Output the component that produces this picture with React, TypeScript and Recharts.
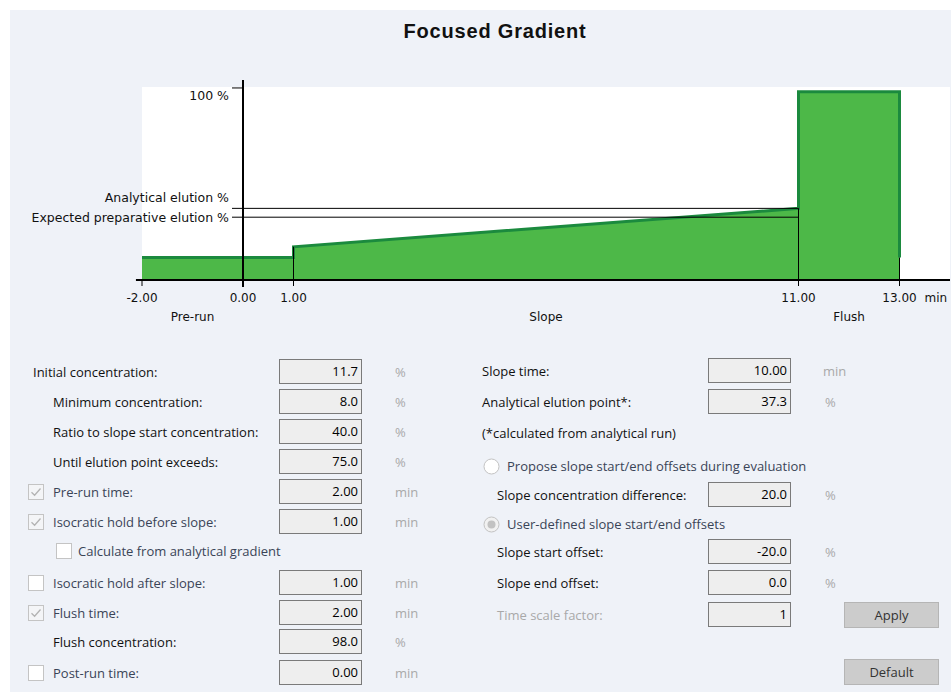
import React from 'react';
import { AreaChart, Area, XAxis, YAxis, CartesianGrid, ReferenceLine } from 'recharts';

// gradient profile: time (min) vs. B concentration (%)
const timeMin = [-2, 0, 1, 1, 11, 11, 13, 13];
const concentration = [11.7, 11.7, 11.7, 17.3, 37.3, 98, 98, 11.7];

const timeTicks = [-2, 0, 1, 11, 13];
const timeTickLabels = ['-2.00', '0.00', '1.00', '11.00', '13.00'];

const phaseNames = ['Pre-run', 'Slope', 'Flush'];
const phaseCenters = [-1, 6, 12];

const percentTicks = [100, 37.3, 32.7];
const percentTickLabels = ['100 %', 'Analytical elution %', 'Expected preparative elution %'];

const analyticalElution = 37.3;
const expectedElution = 32.7;
const boundaryTimes = [1, 11, 13];
const boundaryLevels = [17.3, 37.3, 11.7];

const data = timeMin.map((t, i) => ({ t, conc: concentration[i] }));

// layout
const CHART_W = 951;
const CHART_H = 340;
const MARGIN = { top: 87, right: 1, bottom: 9, left: 82 };
const Y_AXIS_W = 60;
const X_DOMAIN: [number, number] = [-2, 14];
const PLOT_LEFT = MARGIN.left + Y_AXIS_W;
const PLOT_W = CHART_W - PLOT_LEFT - MARGIN.right;
const Y_AXIS_X = PLOT_LEFT + ((0 - X_DOMAIN[0]) * PLOT_W) / (X_DOMAIN[1] - X_DOMAIN[0]);

const chartFont = { fontFamily: '"DejaVu Sans", Verdana, sans-serif', fontSize: 12 };
const yLabelFont = { fontFamily: '"DejaVu Sans", Verdana, sans-serif', fontSize: 12.5 };
const labelShift = [8, -11, 0];

function TimeTick(props: any) {
  const { x, y, payload } = props;
  const i = timeTicks.indexOf(payload.value);
  return (
    <g>
      <text x={x} y={y} dy="0.71em" textAnchor="middle" fill="#111" style={chartFont}>
        {timeTickLabels[i]}
      </text>
      {i === timeTicks.length - 1 && (
        <text x={x + 25} y={y} dy="0.71em" textAnchor="start" fill="#111" style={chartFont}>
          min
        </text>
      )}
    </g>
  );
}

function PhaseTick(props: any) {
  const { x, y, payload } = props;
  const i = phaseCenters.indexOf(payload.value);
  return (
    <text x={x} y={y} dy="0.71em" textAnchor="middle" fill="#111" style={chartFont}>
      {phaseNames[i]}
    </text>
  );
}

function PercentTick(props: any) {
  const { y, payload } = props;
  const i = percentTicks.indexOf(payload.value);
  return (
    <g>
      <line x1={Y_AXIS_X - 11} x2={Y_AXIS_X} y1={y} y2={y} stroke="#000" strokeWidth={1} />
      <text x={Y_AXIS_X - 14} y={y + labelShift[i]} dy="0.35em" textAnchor="end" fill="#111" style={yLabelFont}>
        {percentTickLabels[i]}
      </text>
    </g>
  );
}

function GradientChart() {
  return (
    <AreaChart width={CHART_W} height={CHART_H} data={data} margin={MARGIN}>
      <CartesianGrid horizontal={false} vertical={false} fill="#ffffff" />
      <XAxis
        dataKey="t"
        type="number"
        domain={X_DOMAIN}
        ticks={timeTicks}
        interval={0}
        height={26}
        axisLine={false}
        tickLine={{ stroke: '#000' }}
        tickSize={6}
        tickMargin={7}
        tick={<TimeTick />}
      />
      <XAxis
        xAxisId="phase"
        dataKey="t"
        type="number"
        domain={X_DOMAIN}
        ticks={phaseCenters}
        interval={0}
        height={25}
        axisLine={false}
        tickLine={false}
        tickSize={0}
        tickMargin={6}
        tick={<PhaseTick />}
      />
      <YAxis
        type="number"
        width={Y_AXIS_W}
        domain={[0, 100.5]}
        ticks={percentTicks}
        interval={0}
        axisLine={false}
        tickLine={false}
        tick={<PercentTick />}
      />
      <Area
        type="linear"
        dataKey="conc"
        stroke="#1b8a3e"
        strokeWidth={3}
        fill="#4db848"
        fillOpacity={1}
        dot={false}
        activeDot={false}
        isAnimationActive={false}
      />
      {boundaryTimes.map((t, i) => (
        <ReferenceLine
          key={'b' + t}
          segment={[{ x: t, y: 0 }, { x: t, y: boundaryLevels[i] }]}
          stroke="#000"
          strokeWidth={1}
          ifOverflow="visible"
        />
      ))}
      <ReferenceLine
        segment={[{ x: 0, y: analyticalElution }, { x: 11, y: analyticalElution }]}
        stroke="#000"
        strokeWidth={1}
        ifOverflow="visible"
      />
      <ReferenceLine
        segment={[{ x: 0, y: expectedElution }, { x: 11, y: expectedElution }]}
        stroke="#000"
        strokeWidth={1}
        ifOverflow="visible"
      />
      <ReferenceLine
        segment={[{ x: -2.12, y: 0 }, { x: 14, y: 0 }]}
        stroke="#000"
        strokeWidth={2}
        ifOverflow="visible"
      />
      <ReferenceLine
        segment={[{ x: 0, y: -3.6 }, { x: 0, y: 104.2 }]}
        stroke="#000"
        strokeWidth={2}
        ifOverflow="visible"
      />
    </AreaChart>
  );
}

// ---- form below the chart ----
const uiFont = '"Open Sans", "Noto Sans", sans-serif';
const DARK = '#111';
const CHECK_TEXT = '#3a4457';
const MUTED = '#a9a9a9';

function Label({ x, y, text, color = DARK }: { x: number; y: number; text: string; color?: string }) {
  return (
    <div style={{ position: 'absolute', left: x, top: y - 10, height: 20, lineHeight: '20px', fontSize: 13, color, whiteSpace: 'nowrap' }}>
      {text}
    </div>
  );
}

function ValueBox({ x, y, value }: { x: number; y: number; value: string }) {
  return (
    <div
      style={{
        position: 'absolute', left: x, top: y - 13, width: 83, height: 25, boxSizing: 'border-box',
        border: '1px solid #7a7a7a', background: '#eeeeee', textAlign: 'right', paddingRight: 3,
        lineHeight: '23px', fontSize: 13, color: '#000',
      }}
    >
      {value}
    </div>
  );
}

function CheckBox({ x, y, checked, disabled }: { x: number; y: number; checked: boolean; disabled?: boolean }) {
  return (
    <svg style={{ position: 'absolute', left: x, top: y - 8 }} width={16} height={16}>
      <rect x={0.5} y={0.5} width={15} height={15} fill={disabled ? '#f4f5f7' : '#fff'} stroke="#c4c4c4" />
      {checked && <path d="M3.5 8.2 L6.6 11.2 L12.5 4.5" fill="none" stroke="#b3b3b3" strokeWidth={1.3} />}
    </svg>
  );
}

function Radio({ x, y, selected }: { x: number; y: number; selected: boolean }) {
  return (
    <svg style={{ position: 'absolute', left: x, top: y - 8 }} width={17} height={17}>
      <circle cx={8.5} cy={8.5} r={7.5} fill={selected ? '#f1f1f1' : '#fff'} stroke="#c3c3c3" />
      {selected && <circle cx={8.5} cy={8.5} r={4} fill="#c2c2c2" />}
    </svg>
  );
}

function Button({ x, y, text }: { x: number; y: number; text: string }) {
  return (
    <div
      style={{
        position: 'absolute', left: x, top: y, width: 95, height: 26, boxSizing: 'border-box',
        background: '#cccccc', border: '1px solid #b5b5b5', textAlign: 'center', lineHeight: '24px',
        fontSize: 13, color: '#333',
      }}
    >
      {text}
    </div>
  );
}

export default function App() {
  const L_BOX = 279;
  const L_UNIT = 395;
  const R_BOX = 708;
  const R_UNIT = 823;
  return (
    <div style={{ position: 'absolute', left: 0, top: 0, width: 951, height: 692, background: '#fff', overflow: 'hidden', fontFamily: uiFont }}>
      <div style={{ position: 'absolute', left: 10, top: 10, width: 941, height: 682, background: '#eff2f8' }} />
      <div style={{ position: 'absolute', left: 0, top: 0 }}>
        <GradientChart />
      </div>
      <div
        style={{
          position: 'absolute', left: 295, top: 21, width: 400, textAlign: 'center', lineHeight: '20px',
          fontFamily: '"Liberation Sans", Arial, sans-serif', fontWeight: 700, fontSize: 20, letterSpacing: 0.8, color: '#111',
        }}
      >
        Focused Gradient
      </div>

      {/* left column */}
      <Label x={33} y={372} text="Initial concentration:" />
      <ValueBox x={L_BOX} y={372} value="11.7" />
      <Label x={L_UNIT} y={372} text="%" color={MUTED} />

      <Label x={53} y={402} text="Minimum concentration:" />
      <ValueBox x={L_BOX} y={402} value="8.0" />
      <Label x={L_UNIT} y={402} text="%" color={MUTED} />

      <Label x={53} y={432} text="Ratio to slope start concentration:" />
      <ValueBox x={L_BOX} y={432} value="40.0" />
      <Label x={L_UNIT} y={432} text="%" color={MUTED} />

      <Label x={53} y={462} text="Until elution point exceeds:" />
      <ValueBox x={L_BOX} y={462} value="75.0" />
      <Label x={L_UNIT} y={462} text="%" color={MUTED} />

      <CheckBox x={28} y={492} checked disabled />
      <Label x={53} y={492} text="Pre-run time:" color={CHECK_TEXT} />
      <ValueBox x={L_BOX} y={492} value="2.00" />
      <Label x={L_UNIT} y={492} text="min" color={MUTED} />

      <CheckBox x={28} y={522} checked disabled />
      <Label x={53} y={522} text="Isocratic hold before slope:" color={CHECK_TEXT} />
      <ValueBox x={L_BOX} y={522} value="1.00" />
      <Label x={L_UNIT} y={522} text="min" color={MUTED} />

      <CheckBox x={56} y={551} checked={false} />
      <Label x={78} y={551} text="Calculate from analytical gradient" color={CHECK_TEXT} />

      <CheckBox x={28} y={583} checked={false} />
      <Label x={53} y={583} text="Isocratic hold after slope:" color={CHECK_TEXT} />
      <ValueBox x={L_BOX} y={583} value="1.00" />
      <Label x={L_UNIT} y={583} text="min" color={MUTED} />

      <CheckBox x={28} y={613} checked disabled />
      <Label x={53} y={613} text="Flush time:" color={CHECK_TEXT} />
      <ValueBox x={L_BOX} y={613} value="2.00" />
      <Label x={L_UNIT} y={613} text="min" color={MUTED} />

      <Label x={53} y={642} text="Flush concentration:" />
      <ValueBox x={L_BOX} y={642} value="98.0" />
      <Label x={L_UNIT} y={642} text="%" color={MUTED} />

      <CheckBox x={28} y={673} checked={false} />
      <Label x={53} y={673} text="Post-run time:" color={CHECK_TEXT} />
      <ValueBox x={L_BOX} y={673} value="0.00" />
      <Label x={L_UNIT} y={673} text="min" color={MUTED} />

      {/* right column */}
      <Label x={482} y={371} text="Slope time:" />
      <ValueBox x={R_BOX} y={371} value="10.00" />
      <Label x={R_UNIT} y={371} text="min" color={MUTED} />

      <Label x={482} y={402} text="Analytical elution point*:" />
      <ValueBox x={R_BOX} y={402} value="37.3" />
      <Label x={R_UNIT + 2} y={402} text="%" color={MUTED} />

      <Label x={482} y={433} text="(*calculated from analytical run)" />

      <Radio x={483} y={466} selected={false} />
      <Label x={507} y={466} text="Propose slope start/end offsets during evaluation" color={CHECK_TEXT} />

      <Label x={497} y={495} text="Slope concentration difference:" />
      <ValueBox x={R_BOX} y={495} value="20.0" />
      <Label x={R_UNIT + 2} y={495} text="%" color={MUTED} />

      <Radio x={483} y={524} selected />
      <Label x={507} y={524} text="User-defined slope start/end offsets" color={CHECK_TEXT} />

      <Label x={497} y={552} text="Slope start offset:" />
      <ValueBox x={R_BOX} y={552} value="-20.0" />
      <Label x={R_UNIT + 2} y={552} text="%" color={MUTED} />

      <Label x={497} y={583} text="Slope end offset:" />
      <ValueBox x={R_BOX} y={583} value="0.0" />
      <Label x={R_UNIT + 2} y={583} text="%" color={MUTED} />

      <Label x={497} y={615} text="Time scale factor:" color={MUTED} />
      <ValueBox x={R_BOX} y={615} value="1" />
      <Button x={844} y={602} text="Apply" />

      <Button x={844} y={659} text="Default" />
    </div>
  );
}
